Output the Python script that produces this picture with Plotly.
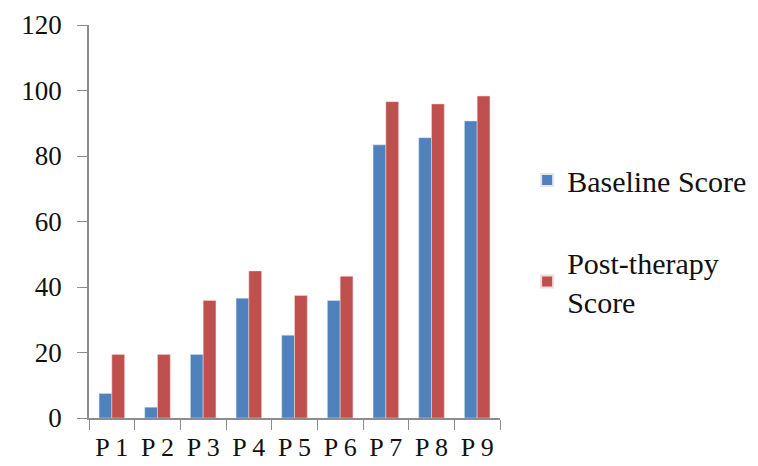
import plotly.graph_objects as go

categories = ["P 1", "P 2", "P 3", "P 4", "P 5", "P 6", "P 7", "P 8", "P 9"]
baseline = [7.5, 3.3, 19.4, 36.6, 25.3, 35.9, 83.4, 85.6, 90.7]
post_therapy = [19.4, 19.4, 35.9, 44.9, 37.4, 43.3, 96.6, 95.9, 98.3]
y_ticks = [0, 20, 40, 60, 80, 100, 120]

font = "Liberation Serif, Times New Roman, serif"

fig = go.Figure()
fig.add_trace(go.Bar(x=categories, y=baseline, name="Baseline Score",
                     marker=dict(color="#4F81BD", line=dict(color="#dfe6f0", width=0.5)),
                     legendgroup="a"))
fig.add_trace(go.Bar(x=categories, y=post_therapy, name="Post-therapy<br>Score",
                     marker=dict(color="#C0504D", line=dict(color="#f0dcdc", width=0.5)),
                     legendgroup="b"))

fig.update_layout(
    width=758, height=466,
    margin=dict(l=81, r=266, t=17, b=56, autoexpand=False),
    paper_bgcolor="white", plot_bgcolor="white",
    barmode="group", bargap=0.44, bargroupgap=0,
    font=dict(family=font, size=26, color="#111"),
    showlegend=True,
    legend=dict(x=1.066, y=0.672, xanchor="left", yanchor="top",
                font=dict(family=font, size=30, color="#111"),
                tracegroupgap=40, itemsizing="constant"),
    xaxis=dict(showline=True, linecolor="#8c8c8c", linewidth=1.5,
               ticks="outside", tickcolor="#8c8c8c", ticklen=10,
               tickson="boundaries", showgrid=False, ticklabelstandoff=5,
               automargin=False,
               tickfont=dict(family=font, size=26, color="#111")),
    yaxis=dict(range=[0, 120], tickvals=y_ticks, showline=True,
               linecolor="#8c8c8c", linewidth=1.5,
               ticks="outside", tickcolor="#8c8c8c", ticklen=10,
               showgrid=False, zeroline=False, ticklabelstandoff=10,
               automargin=False,
               tickfont=dict(family=font, size=27, color="#111")),
)

fig.write_html("out.html")
